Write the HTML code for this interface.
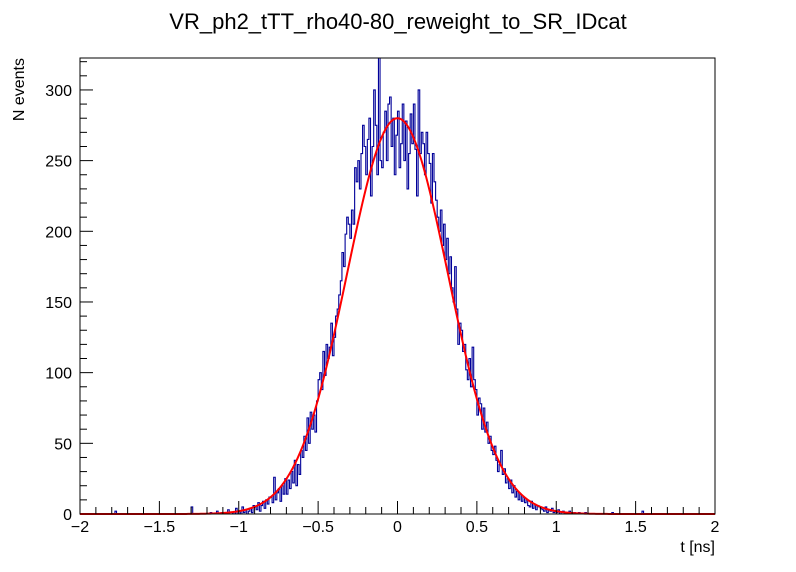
<!DOCTYPE html>
<html><head><meta charset="utf-8"><style>
html,body{margin:0;padding:0;background:#fff;}
svg{display:block;font-family:"Liberation Sans",sans-serif;}
</style></head><body>
<svg id="chart" width="796" height="572">
<rect x="0" y="0" width="796" height="572" fill="#fff"/>
<text x="398" y="29" font-size="22" text-anchor="middle">VR_ph2_tTT_rho40-80_reweight_to_SR_IDcat</text>
<g id="plot"></g>
<text x="715" y="552" font-size="16" text-anchor="end">t [ns]</text>
<text transform="translate(24,58) rotate(-90)" font-size="16" text-anchor="end">N events</text>
</svg>
<script>
const binLo = -2.0;
const binWidth = 0.01;
const counts = [
0,0,0,0,0,0,0,0,0,0, 0,0,0,0,0,0,0,0,0,0, 0,0,2,0,0,0,0,0,0,0, 0,0,0,0,0,0,0,0,0,0, 0,0,0,0,0,0,0,0,0,0, 0,0,0,0,0,0,0,0,0,0, 0,0,0,0,0,0,0,0,0,0,
5,0,0,0,0,0,0,0,0,0,
0,0,1,0,0,0,2,0,0,1,
0,0,1,3,0,0,1,0,4,0,
2,0,5,1,3,0,2,4,1,6,
5,3,8,2,6,9,4,10,7,12,
12,8,26,10,15,18,9,20,14,25,
14,24,18,30,22,38,20,35,28,45,
40,55,45,68,50,72,60,70,58,80,
95,100,88,115,98,120,110,118,135,112,
125,140,145,155,165,185,175,198,210,205,
195,215,205,245,235,250,230,255,275,260,
240,265,280,225,260,300,275,240,330,250,
245,270,285,250,290,295,260,280,240,268,
285,245,262,290,250,278,230,255,283,262,
290,258,225,300,255,270,262,240,270,255,
248,220,255,235,222,210,200,215,190,205,
180,195,170,182,160,150,175,145,120,135,
130,115,120,102,95,110,90,118,95,88,
70,82,78,60,75,58,65,50,55,45,
42,48,38,30,35,45,28,32,22,25,
18,24,15,20,12,16,10,14,9,12,
8,10,6,5,9,4,7,3,6,5,
4,3,2,5,1,3,2,4,1,2,
1,3,0,1,2,0,1,0,2,0,
0,1,0,0,1,0,0,0,1,0,
0,0,0,0,0,0,0,0,0,0, 0,0,0,0,0,1,0,0,0,0, 0,0,0,0,0,0,0,0,0,0, 0,0,0,0,2,0,0,0,0,0, 0,0,0,0,0,0,0,0,0,0, 0,0,0,0,0,0,0,0,0,0, 0,0,0,0,0,0,0,0,0,0, 0,0,0,0,0,0,0,0,0,0
];
const fitParams = [280, 0.0, 0.318]; // amplitude, mean, sigma
const xTicks = [-2, -1.5, -1, -0.5, 0, 0.5, 1, 1.5, 2];
const xTickLabels = ["−2","−1.5","−1","−0.5","0","0.5","1","1.5","2"];
const yTicks = [0, 50, 100, 150, 200, 250, 300];
const yTickLabels = ["0","50","100","150","200","250","300"];

const X0=80, X1=715, Y0=514, Y1=58;
const xMin=-2, xMax=2, yMin=0, yMax=322.6;
const sx = v => X0 + (v - xMin) / (xMax - xMin) * (X1 - X0);
const sy = v => Y0 - (Math.min(v, yMax) - yMin) / (yMax - yMin) * (Y0 - Y1);
const NS = "http://www.w3.org/2000/svg";
const plot = document.getElementById('plot');
function mk(tag, attrs){const e=document.createElementNS(NS,tag);for(const k in attrs)e.setAttribute(k,attrs[k]);plot.appendChild(e);return e;}

let d = "M" + sx(binLo) + "," + sy(0);
for (let i = 0; i < counts.length; i++) {
  const xl = sx(binLo + i * binWidth), xr = sx(binLo + (i + 1) * binWidth), y = sy(counts[i]);
  d += " L" + xl.toFixed(2) + "," + y.toFixed(2) + " L" + xr.toFixed(2) + "," + y.toFixed(2);
}
d += " L" + sx(binLo + counts.length * binWidth) + "," + sy(0);
const h = mk('path', {d: d, fill: 'none', stroke: '#000099', 'stroke-width': 1.1});



let fd = "";
for (let i = 0; i <= 400; i++) {
  const t = xMin + i * (xMax - xMin) / 400;
  const v = fitParams[0] * Math.exp(-0.5 * Math.pow((t - fitParams[1]) / fitParams[2], 2));
  fd += (i ? " L" : "M") + sx(t).toFixed(2) + "," + sy(v).toFixed(2);
}
const f = mk('path', {d: fd, fill: 'none', stroke: '#ff0000', 'stroke-width': 2});



const fr = mk('rect', {x: X0, y: Y1, width: X1 - X0, height: Y0 - Y1, fill: 'none', stroke: '#000', 'stroke-width': 1});



for (let v = -2; v <= 2.0001; v += 0.1) {
  const major = Math.abs(v * 2 - Math.round(v * 2)) < 1e-6;
  const t = mk('line', {x1: sx(v), x2: sx(v), y1: Y0, y2: Y0 - (major ? 13 : 7), stroke: '#000'});
  
  
}
xTicks.forEach((v, i) => {
  const t = mk('text', {x: sx(v), y: 532, 'font-size': 16, 'text-anchor': 'middle'});
  t.textContent = xTickLabels[i];
  
  
});
for (let v = 0; v <= yMax; v += 10) {
  const major = v % 50 === 0;
  const t = mk('line', {x1: X0, x2: X0 + (major ? 13 : 7), y1: sy(v), y2: sy(v), stroke: '#000'});
  
  
}
yTicks.forEach((v, i) => {
  const t = mk('text', {x: 72, y: sy(v) + 6, 'font-size': 16, 'text-anchor': 'end'});
  t.textContent = yTickLabels[i];
  
  
});
</script>
</body></html>
